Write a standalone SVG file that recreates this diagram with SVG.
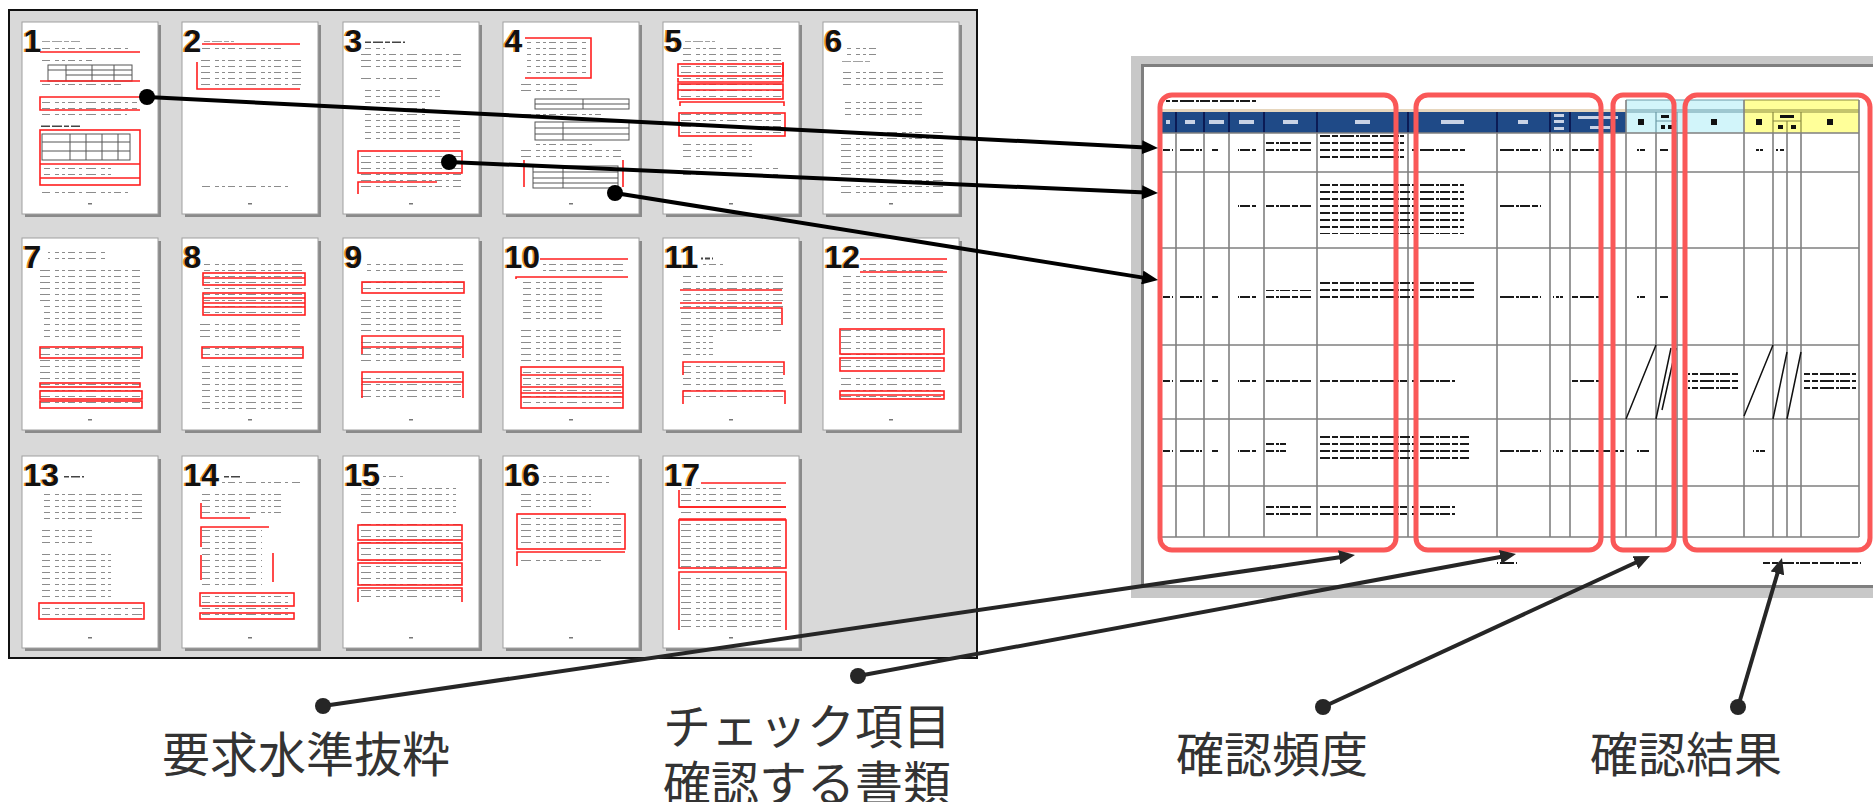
<svg xmlns="http://www.w3.org/2000/svg" width="1873" height="802" viewBox="0 0 1873 802">
<defs>
<style>
.sh{fill:#8a8a8a}
.pg{fill:#fff;stroke:#a0a0a0;stroke-width:1}
.num{font-family:"Liberation Sans",Arial,sans-serif;font-weight:bold;font-size:32px;fill:#111}
.numo{font-family:"Liberation Sans",Arial,sans-serif;font-weight:bold;font-size:32px;fill:#e8962e}
.rd{fill:none;stroke:#ff1e1e;stroke-width:1.6}
.t{fill:url(#tx)}
.h{fill:url(#tb)}
.k{fill:url(#tk)}
.tbl{fill:none;stroke:#555;stroke-width:1}
.ft{fill:#777}
.grid{stroke:#808080;stroke-width:1.6;fill:none}
.hsep{stroke:#0b1b55;stroke-width:2}
.hl{fill:#c9d3e6}
.rr{fill:none;stroke:#fa5858;stroke-width:5}
.lbl{font-family:"Noto Sans CJK JP","Noto Sans CJK SC",sans-serif;font-size:48px;fill:#333}
.ca{stroke:#000;stroke-width:4;fill:none}
.cb{stroke:#262626;stroke-width:4;fill:none}
</style>
<pattern id="tx" width="46" height="6" patternUnits="userSpaceOnUse">
<path d="M0 2.5h7M11 2.5h3M18 2.5h10M33 2.5h4M40 2.5h3" stroke="#8c8c8c" stroke-width="1.2"/>
</pattern>
<pattern id="tb" width="30" height="6" patternUnits="userSpaceOnUse">
<path d="M0 2.5h10M12 2.5h5M19 2.5h9" stroke="#444" stroke-width="1.8"/>
</pattern>
<pattern id="tk" width="40" height="7" patternUnits="userSpaceOnUse">
<path d="M0 3h10M12 3h6M20 3h14M36 3h3" stroke="#1a1a1a" stroke-width="2"/>
</pattern>
<marker id="ah" markerUnits="userSpaceOnUse" markerWidth="16" markerHeight="14" viewBox="0 0 16 14" refX="4" refY="7" orient="auto">
<path d="M0 0L16 7L0 14z" fill="#000"/>
</marker>
<marker id="ah2" markerUnits="userSpaceOnUse" markerWidth="16" markerHeight="14" viewBox="0 0 16 14" refX="4" refY="7" orient="auto">
<path d="M0 0L16 7L0 14z" fill="#262626"/>
</marker>
</defs>

<rect width="1873" height="802" fill="#fff"/>

<!-- left panel with document pages -->
<g id="pages-panel">
<rect x="9" y="10" width="968" height="648" fill="#d9d9d9" stroke="#111" stroke-width="2"/>
</g>

<g id="page1" transform="translate(22,22)">
<rect class="sh" x="3" y="3" width="136" height="192"/><rect class="pg" width="136" height="192"/>
<text class="numo" x="0" y="30">1</text><text class="num" x="1.5" y="30">1</text>
<rect class="h" x="20" y="16" width="40" height="4"/><rect class="t" x="20" y="21" width="90" height="8"/>
<line class="rd" x1="18" y1="30" x2="118" y2="30"/>
<rect class="t" x="20" y="33" width="50" height="8"/>
<rect class="tbl" x="26" y="43" width="84" height="16"/><path class="tbl" d="M26 48h84M44 53h66M44 43v16M70 43v16M92 43v16"/>
<line class="rd" x1="18" y1="59" x2="118" y2="59"/>
<rect class="t" x="20" y="62" width="80" height="6"/>
<rect class="h" x="18" y="70" width="40" height="3"/>
<rect class="t" x="20" y="77" width="95" height="10"/>
<path class="rd" d="M118 75H18v13h100"/>
<rect class="t" x="20" y="91" width="85" height="6"/>
<rect class="h" x="18" y="102" width="40" height="3"/>
<rect class="rd" x="18" y="108" width="100" height="55"/>
<rect class="tbl" x="20" y="112" width="88" height="26"/><path class="tbl" d="M20 120h88M20 129h88M48 112v26M64 112v26M80 112v26M96 112v26"/>
<line class="rd" x1="18" y1="142" x2="118" y2="142" stroke-width="3"/>
<rect class="t" x="22" y="144" width="70" height="10"/>
<line class="rd" x1="18" y1="156" x2="118" y2="156" stroke-width="3"/>
<rect class="t" x="20" y="166" width="90" height="10"/>
<rect class="ft" x="66" y="181" width="4" height="1.5"/>
</g>

<g id="page2" transform="translate(182,22)">
<rect class="sh" x="3" y="3" width="136" height="192"/><rect class="pg" width="136" height="192"/>
<text class="numo" x="0" y="30">2</text><text class="num" x="1.5" y="30">2</text>
<rect class="h" x="22" y="17" width="30" height="3"/>
<line class="rd" x1="20" y1="22" x2="118" y2="22"/>
<rect class="t" x="20" y="24" width="80" height="6"/>
<rect class="t" x="19" y="38" width="100" height="28"/>
<path class="rd" d="M15 40v27h103"/>
<rect class="t" x="20" y="164" width="90" height="5"/>
<rect class="ft" x="66" y="181" width="4" height="1.5"/>
</g>

<g id="page3" transform="translate(343,22)">
<rect class="sh" x="3" y="3" width="136" height="192"/><rect class="pg" width="136" height="192"/>
<text class="numo" x="0" y="30">3</text><text class="num" x="1.5" y="30">3</text>
<rect class="h" x="22" y="17" width="40" height="4"/><rect class="t" x="22" y="23" width="20" height="4"/>
<rect class="t" x="18" y="32" width="100" height="14"/>
<rect class="t" x="18" y="52" width="60" height="8"/>
<rect class="t" x="22" y="64" width="75" height="12"/>
<rect class="t" x="22" y="80" width="60" height="14"/>
<rect class="t" x="22" y="98" width="95" height="22"/>
<rect class="h" x="18" y="124" width="20" height="3"/>
<rect class="t" x="18" y="130" width="100" height="40"/>
<rect class="rd" x="15" y="129" width="104" height="22"/>
<path class="rd" d="M15 172v-12h79"/>
<rect class="ft" x="66" y="181" width="4" height="1.5"/>
</g>

<g id="page4" transform="translate(503,22)">
<rect class="sh" x="3" y="3" width="136" height="192"/><rect class="pg" width="136" height="192"/>
<text class="numo" x="0" y="30">4</text><text class="num" x="1.5" y="30">4</text>
<rect class="t" x="24" y="18" width="60" height="36"/>
<path class="rd" d="M22 16h66v40H22"/>
<rect class="t" x="18" y="58" width="60" height="12"/>
<rect class="tbl" x="32" y="77" width="94" height="10"/><path class="tbl" d="M80 77v10M32 82h94"/>
<rect class="t" x="18" y="89" width="80" height="5"/>
<rect class="tbl" x="32" y="100" width="94" height="18"/><path class="tbl" d="M32 106h94M32 112h94M60 100v18"/>
<rect class="t" x="30" y="120" width="60" height="4"/>
<rect class="t" x="18" y="128" width="100" height="10"/>
<rect class="tbl" x="30" y="144" width="85" height="22"/><path class="tbl" d="M30 150h85M30 156h85M30 161h85M60 144v22"/>
<path class="rd" d="M21 138v27M120 138v27"/>
<rect class="ft" x="66" y="181" width="4" height="1.5"/>
</g>

<g id="page5" transform="translate(663,22)">
<rect class="sh" x="3" y="3" width="136" height="192"/><rect class="pg" width="136" height="192"/>
<text class="numo" x="0" y="30">5</text><text class="num" x="1.5" y="30">5</text>
<rect class="h" x="22" y="17" width="30" height="3"/>
<rect class="t" x="20" y="23" width="98" height="34"/>
<path class="rd" d="M120 40v20H15v-4"/>
<rect class="t" x="18" y="44" width="100" height="9"/>
<rect class="rd" x="15" y="42" width="105" height="12"/>
<rect class="t" x="18" y="62" width="100" height="14"/>
<rect class="rd" x="15" y="62" width="105" height="15"/><line class="rd" x1="15" y1="68" x2="120" y2="68"/>
<path class="rd" d="M17 84v-4h104v4"/>
<rect class="t" x="18" y="92" width="100" height="22"/>
<rect class="rd" x="16" y="91" width="106" height="23"/>
<rect class="t" x="20" y="118" width="70" height="22"/>
<rect class="t" x="20" y="146" width="95" height="12"/>
<rect class="ft" x="66" y="181" width="4" height="1.5"/>
</g>

<g id="page6" transform="translate(823,22)">
<rect class="sh" x="3" y="3" width="136" height="192"/><rect class="pg" width="136" height="192"/>
<text class="numo" x="0" y="30">6</text><text class="num" x="1.5" y="30">6</text>
<rect class="t" x="24" y="22" width="30" height="12"/>
<rect class="h" x="18" y="39" width="30" height="3"/>
<rect class="t" x="20" y="45" width="100" height="20"/>
<rect class="h" x="18" y="70" width="30" height="3"/>
<rect class="t" x="22" y="75" width="80" height="18"/>
<rect class="h" x="18" y="100" width="30" height="3"/>
<rect class="t" x="18" y="105" width="105" height="70"/>
<rect class="ft" x="66" y="181" width="4" height="1.5"/>
</g>

<g id="page7" transform="translate(22,238)">
<rect class="sh" x="3" y="3" width="136" height="192"/><rect class="pg" width="136" height="192"/>
<text class="numo" x="0" y="30">7</text><text class="num" x="1.5" y="30">7</text>
<rect class="t" x="26" y="12" width="60" height="14"/>
<rect class="t" x="18" y="30" width="100" height="34"/>
<rect class="t" x="22" y="68" width="100" height="36"/>
<rect class="t" x="18" y="106" width="100" height="64"/>
<rect class="rd" x="18" y="109" width="102" height="11"/>
<rect class="rd" x="18" y="145" width="100" height="4"/>
<rect class="rd" x="18" y="153" width="102" height="8"/>
<rect class="rd" x="18" y="163" width="102" height="7"/>
<rect class="ft" x="66" y="181" width="4" height="1.5"/>
</g>

<g id="page8" transform="translate(182,238)">
<rect class="sh" x="3" y="3" width="136" height="192"/><rect class="pg" width="136" height="192"/>
<text class="numo" x="0" y="30">8</text><text class="num" x="1.5" y="30">8</text>
<rect class="t" x="22" y="22" width="98" height="56"/>
<rect class="rd" x="21" y="35" width="102" height="12"/><line class="rd" x1="21" y1="40" x2="123" y2="40"/>
<rect class="rd" x="21" y="55" width="102" height="22"/><path class="rd" d="M21 60h102M21 65h102M21 69h102"/>
<rect class="t" x="18" y="82" width="100" height="22"/>
<rect class="t" x="20" y="108" width="100" height="12"/>
<rect class="rd" x="20" y="109" width="101" height="11"/>
<rect class="t" x="20" y="126" width="100" height="46"/>
<rect class="ft" x="66" y="181" width="4" height="1.5"/>
</g>

<g id="page9" transform="translate(343,238)">
<rect class="sh" x="3" y="3" width="136" height="192"/><rect class="pg" width="136" height="192"/>
<text class="numo" x="0" y="30">9</text><text class="num" x="1.5" y="30">9</text>
<rect class="t" x="24" y="22" width="98" height="14"/>
<rect class="t" x="20" y="44" width="100" height="10"/>
<rect class="rd" x="19" y="44" width="102" height="11"/>
<rect class="t" x="18" y="60" width="100" height="36"/>
<rect class="t" x="18" y="99" width="100" height="28"/>
<path class="rd" d="M19 116V98h101v22M19 109h101"/>
<rect class="t" x="18" y="135" width="100" height="28"/>
<path class="rd" d="M19 160v-26h101v26M19 144h101"/>
<rect class="ft" x="66" y="181" width="4" height="1.5"/>
</g>

<g id="page10" transform="translate(503,238)">
<rect class="sh" x="3" y="3" width="136" height="192"/><rect class="pg" width="136" height="192"/>
<text class="numo" x="0" y="30">10</text><text class="num" x="1.5" y="30">10</text>
<line class="rd" x1="37" y1="21" x2="125" y2="21"/>
<rect class="t" x="40" y="23" width="82" height="14"/>
<path class="rd" d="M13 41v-2h112"/>
<rect class="t" x="20" y="44" width="80" height="40"/>
<rect class="t" x="18" y="88" width="100" height="40"/>
<rect class="t" x="20" y="130" width="98" height="40"/>
<rect class="rd" x="18" y="129" width="102" height="41"/><path class="rd" d="M18 137h102M18 149h102M18 155h102M18 159h102"/>
<rect class="ft" x="66" y="181" width="4" height="1.5"/>
</g>

<g id="page11" transform="translate(663,238)">
<rect class="sh" x="3" y="3" width="136" height="192"/><rect class="pg" width="136" height="192"/>
<text class="numo" x="0" y="30">11</text><text class="num" x="1.5" y="30">11</text>
<rect class="h" x="38" y="19" width="12" height="3"/><rect class="t" x="38" y="24" width="22" height="5"/>
<rect class="t" x="20" y="34" width="100" height="40"/>
<path class="rd" d="M17 52h102M17 65h102"/>
<path class="rd" d="M17 70h102v17"/>
<rect class="t" x="18" y="74" width="100" height="20"/>
<rect class="t" x="20" y="96" width="30" height="26"/>
<rect class="t" x="20" y="126" width="100" height="38"/>
<path class="rd" d="M20 137v-13h101v13"/>
<path class="rd" d="M20 166v-13h102v13"/>
<rect class="ft" x="66" y="181" width="4" height="1.5"/>
</g>

<g id="page12" transform="translate(823,238)">
<rect class="sh" x="3" y="3" width="136" height="192"/><rect class="pg" width="136" height="192"/>
<text class="numo" x="0" y="30">12</text><text class="num" x="1.5" y="30">12</text>
<path class="rd" d="M37 21h87M37 34h87"/>
<rect class="t" x="40" y="25" width="82" height="8"/>
<rect class="t" x="20" y="38" width="100" height="48"/>
<rect class="t" x="18" y="92" width="100" height="40"/>
<rect class="rd" x="17" y="91" width="104" height="25"/>
<rect class="rd" x="17" y="120" width="104" height="13"/>
<rect class="t" x="18" y="138" width="100" height="24"/>
<rect class="rd" x="17" y="153" width="104" height="8"/><line class="rd" x1="17" y1="157" x2="121" y2="157"/>
<rect class="ft" x="66" y="181" width="4" height="1.5"/>
</g>

<g id="page13" transform="translate(22,456)">
<rect class="sh" x="3" y="3" width="136" height="192"/><rect class="pg" width="136" height="192"/>
<text class="numo" x="0" y="30">13</text><text class="num" x="1.5" y="30">13</text>
<rect class="h" x="40" y="20" width="22" height="3"/>
<rect class="t" x="22" y="34" width="100" height="30"/>
<rect class="t" x="20" y="70" width="50" height="22"/>
<rect class="t" x="20" y="96" width="70" height="46"/>
<rect class="t" x="20" y="149" width="100" height="12"/>
<rect class="rd" x="17" y="147" width="105" height="16"/>
<rect class="ft" x="66" y="181" width="4" height="1.5"/>
</g>

<g id="page14" transform="translate(182,456)">
<rect class="sh" x="3" y="3" width="136" height="192"/><rect class="pg" width="136" height="192"/>
<text class="numo" x="0" y="30">14</text><text class="num" x="1.5" y="30">14</text>
<rect class="h" x="40" y="20" width="20" height="3"/><rect class="t" x="40" y="24" width="78" height="5"/>
<rect class="t" x="20" y="34" width="80" height="28"/>
<path class="rd" d="M19 47v15h49"/>
<path class="rd" d="M19 91V71h68"/>
<rect class="t" x="20" y="72" width="60" height="22"/>
<rect class="t" x="20" y="98" width="60" height="34"/>
<path class="rd" d="M19 99v25M91 97v29"/>
<rect class="t" x="20" y="138" width="90" height="24"/>
<rect class="rd" x="18" y="137" width="94" height="13"/>
<rect class="rd" x="18" y="157" width="94" height="6"/>
<rect class="ft" x="66" y="181" width="4" height="1.5"/>
</g>

<g id="page15" transform="translate(343,456)">
<rect class="sh" x="3" y="3" width="136" height="192"/><rect class="pg" width="136" height="192"/>
<text class="numo" x="0" y="30">15</text><text class="num" x="1.5" y="30">15</text>
<rect class="t" x="40" y="20" width="20" height="5"/>
<rect class="t" x="18" y="32" width="95" height="30"/>
<rect class="t" x="18" y="66" width="100" height="80"/>
<rect class="rd" x="15" y="69" width="104" height="15"/>
<rect class="rd" x="15" y="87" width="104" height="17"/>
<rect class="rd" x="15" y="107" width="104" height="22"/>
<path class="rd" d="M15 146v-14h104v14"/>
<rect class="ft" x="66" y="181" width="4" height="1.5"/>
</g>

<g id="page16" transform="translate(503,456)">
<rect class="sh" x="3" y="3" width="136" height="192"/><rect class="pg" width="136" height="192"/>
<text class="numo" x="0" y="30">16</text><text class="num" x="1.5" y="30">16</text>
<rect class="t" x="40" y="20" width="68" height="12"/>
<rect class="t" x="18" y="38" width="70" height="14"/>
<rect class="t" x="18" y="60" width="100" height="30"/>
<rect class="rd" x="14" y="58" width="108" height="35"/>
<path class="rd" d="M14 110V96h108"/>
<rect class="t" x="18" y="99" width="80" height="10"/>
<rect class="ft" x="66" y="181" width="4" height="1.5"/>
</g>

<g id="page17" transform="translate(663,456)">
<rect class="sh" x="3" y="3" width="136" height="192"/><rect class="pg" width="136" height="192"/>
<text class="numo" x="0" y="30">17</text><text class="num" x="1.5" y="30">17</text>
<rect class="h" x="40" y="22" width="18" height="3"/>
<line class="rd" x1="38" y1="27" x2="123" y2="27"/>
<rect class="t" x="18" y="32" width="100" height="18"/>
<path class="rd" d="M16 34v17h107" />
<line class="rd" x1="16" y1="51" x2="123" y2="51" stroke-width="3"/>
<rect class="t" x="18" y="55" width="100" height="6"/>
<line class="rd" x1="16" y1="63" x2="123" y2="63"/>
<rect class="rd" x="16" y="64" width="107" height="48"/>
<rect class="t" x="18" y="67" width="100" height="44"/>
<path class="rd" d="M16 174v-58h107v58"/>
<rect class="t" x="18" y="118" width="100" height="56"/>
<rect class="ft" x="66" y="181" width="4" height="1.5"/>
</g>

<!-- right panel: checklist spreadsheet -->
<g id="sheet">
<rect x="1131" y="56" width="760" height="542" fill="#c8c8c8"/>
<rect x="1142.5" y="65.5" width="740" height="521" fill="#fff" stroke="#7f7f7f" stroke-width="3"/>
<rect class="k" x="1158" y="89" width="150" height="4"/>
<rect class="k" x="1166" y="100" width="90" height="5"/>
<rect x="1161" y="109" width="465" height="3" fill="#e6d6bd"/>
<rect x="1161" y="112" width="465" height="21" fill="#1f4a87"/>
<path class="hsep" d="M1176 112v21M1204 112v21M1229 112v21M1264 112v21M1317 112v21M1408 112v21M1497 112v21M1550 112v21M1570 112v21"/>
<rect class="hl" x="1166" y="120" width="4" height="4"/>
<rect class="hl" x="1185" y="120" width="10" height="4"/>
<rect class="hl" x="1209" y="120" width="15" height="4"/>
<rect class="hl" x="1239" y="120" width="15" height="4"/>
<rect class="hl" x="1283" y="120" width="15" height="4"/>
<rect class="hl" x="1355" y="120" width="15" height="4"/>
<rect class="hl" x="1441" y="120" width="23" height="4"/>
<rect class="hl" x="1518" y="120" width="10" height="4"/>
<rect class="hl" x="1554" y="114" width="10" height="3"/><rect class="hl" x="1554" y="120" width="10" height="3"/><rect class="hl" x="1554" y="127" width="10" height="3"/>
<rect class="hl" x="1578" y="116" width="40" height="3"/><rect class="hl" x="1590" y="126" width="20" height="3"/>
<rect x="1626" y="100" width="118" height="33" fill="#d2f5fa"/>
<path d="M1626 100h118M1626 110h118M1626 112h118M1656 112v21M1677 112v21M1656 121h21" stroke="#6a9aa6" stroke-width="1.2" fill="none"/>
<rect class="k" x="1665" y="104" width="30" height="3"/>
<rect x="1638" y="119" width="6" height="6" fill="#111"/>
<rect x="1661" y="115" width="8" height="3" fill="#111"/><rect x="1661" y="125" width="4" height="4" fill="#111"/><rect x="1668" y="125" width="4" height="4" fill="#111"/>
<rect x="1711" y="119" width="6" height="6" fill="#111"/>
<rect x="1744" y="100" width="115" height="33" fill="#ffff99"/>
<path d="M1744 100h115M1744 110h115M1744 112h115M1773 112v21M1801 112v21M1773 121h28M1787 121v12" stroke="#8a8a40" stroke-width="1.2" fill="none"/>
<rect class="k" x="1768" y="104" width="60" height="3"/>
<rect x="1756" y="119" width="6" height="6" fill="#111"/>
<rect x="1780" y="115" width="14" height="3" fill="#111"/><rect x="1778" y="125" width="5" height="4" fill="#111"/><rect x="1791" y="125" width="5" height="4" fill="#111"/>
<rect x="1827" y="119" width="6" height="6" fill="#111"/>
<path class="grid" d="M1161 133h698M1161 172h698M1161 248h698M1161 345h698M1161 419h698M1161 486h698M1161 537h698"/>
<path class="grid" d="M1161 133v404M1176 133v404M1204 133v404M1229 133v404M1264 133v404M1317 133v404M1408 133v404M1497 133v404M1550 133v404M1570 133v404M1626 100v437M1656 133v404M1677 133v404M1744 100v437M1773 133v404M1787 133v404M1801 133v404M1859 100v437"/>
<!-- row 1 -->
<rect class="k" x="1163" y="148" width="10" height="5"/><rect class="k" x="1178" y="148" width="24" height="5"/><rect class="k" x="1211" y="148" width="8" height="5"/><rect class="k" x="1238" y="148" width="18" height="5"/><rect class="k" x="1266" y="142" width="45" height="14"/><rect class="k" x="1319" y="135" width="85" height="28"/><rect class="k" x="1410" y="148" width="55" height="5"/><rect class="k" x="1499" y="148" width="42" height="5"/><rect class="k" x="1553" y="148" width="10" height="5"/><rect class="k" x="1572" y="148" width="30" height="5"/><rect class="k" x="1637" y="148" width="8" height="5"/><rect class="k" x="1660" y="148" width="8" height="5"/><rect class="k" x="1755" y="148" width="8" height="5"/><rect class="k" x="1776" y="148" width="8" height="5"/>
<!-- row 2 -->
<rect class="k" x="1163" y="207" width="10" height="5"/><rect class="k" x="1178" y="207" width="24" height="5"/><rect class="k" x="1211" y="207" width="8" height="5"/><rect class="k" x="1238" y="200" width="18" height="12"/><rect class="k" x="1266" y="200" width="45" height="12"/><rect class="k" x="1319" y="184" width="145" height="50"/><rect class="k" x="1499" y="200" width="42" height="12"/><rect class="k" x="1553" y="207" width="10" height="5"/><rect class="k" x="1572" y="207" width="30" height="5"/><rect class="k" x="1637" y="207" width="8" height="5"/><rect class="k" x="1660" y="207" width="8" height="5"/><rect class="k" x="1755" y="207" width="8" height="5"/><rect class="k" x="1776" y="207" width="8" height="5"/>
<!-- row 3 -->
<rect class="k" x="1163" y="293" width="10" height="5"/><rect class="k" x="1178" y="293" width="24" height="5"/><rect class="k" x="1211" y="293" width="8" height="5"/><rect class="k" x="1238" y="293" width="18" height="5"/><rect class="k" x="1266" y="290" width="45" height="12"/><rect class="k" x="1319" y="280" width="155" height="22"/><rect class="k" x="1499" y="293" width="42" height="5"/><rect class="k" x="1553" y="293" width="10" height="5"/><rect class="k" x="1572" y="293" width="30" height="5"/><rect class="k" x="1637" y="293" width="8" height="5"/><rect class="k" x="1660" y="293" width="8" height="5"/>
<!-- row 4 -->
<rect class="k" x="1163" y="378" width="10" height="5"/><rect class="k" x="1178" y="378" width="24" height="5"/><rect class="k" x="1211" y="378" width="8" height="5"/><rect class="k" x="1238" y="378" width="18" height="5"/><rect class="k" x="1266" y="375" width="45" height="10"/><rect class="k" x="1319" y="375" width="88" height="10"/><rect class="k" x="1410" y="378" width="45" height="5"/><rect class="k" x="1572" y="378" width="30" height="5"/>
<rect class="k" x="1688" y="369" width="50" height="24"/><rect class="k" x="1804" y="369" width="52" height="24"/>
<path d="M1626 419L1656 345M1656 419L1671 348M1662 410L1676 348M1744 416L1773 345M1773 419L1787 352M1787 419L1801 352" stroke="#111" stroke-width="1.5" fill="none"/>
<!-- row 5 -->
<rect class="k" x="1163" y="449" width="10" height="5"/><rect class="k" x="1178" y="449" width="24" height="5"/><rect class="k" x="1211" y="449" width="8" height="5"/><rect class="k" x="1238" y="449" width="18" height="5"/><rect class="k" x="1266" y="443" width="20" height="12"/><rect class="k" x="1319" y="434" width="150" height="30"/><rect class="k" x="1499" y="449" width="42" height="5"/><rect class="k" x="1553" y="449" width="10" height="5"/><rect class="k" x="1572" y="449" width="52" height="5"/><rect class="k" x="1637" y="449" width="12" height="5"/><rect class="k" x="1753" y="449" width="12" height="5"/>
<!-- row 6 -->
<rect class="k" x="1163" y="508" width="10" height="5"/><rect class="k" x="1178" y="508" width="24" height="5"/><rect class="k" x="1211" y="508" width="8" height="5"/><rect class="k" x="1238" y="508" width="18" height="5"/><rect class="k" x="1266" y="505" width="45" height="10"/><rect class="k" x="1319" y="505" width="88" height="10"/><rect class="k" x="1410" y="505" width="45" height="10"/><rect class="k" x="1499" y="508" width="20" height="5"/><rect class="k" x="1553" y="508" width="10" height="5"/><rect class="k" x="1572" y="508" width="52" height="5"/><rect class="k" x="1637" y="508" width="8" height="5"/><rect class="k" x="1755" y="508" width="8" height="5"/>
<rect class="k" x="1497" y="559" width="20" height="5"/>
<rect class="k" x="1763" y="559" width="98" height="5"/>
</g>

<g id="box-requirements"><rect class="rr" x="1160" y="95" width="236" height="455" rx="12"/></g>
<g id="box-checkitems"><rect class="rr" x="1416" y="95" width="185" height="455" rx="12"/></g>
<g id="box-frequency"><rect class="rr" x="1613" y="95" width="61" height="455" rx="10"/></g>
<g id="box-results"><rect class="rr" x="1685" y="95" width="185" height="455" rx="12"/></g>

<g id="connectors">
<line class="ca" x1="147" y1="97" x2="1146" y2="147.4" marker-end="url(#ah)"/>
<circle cx="147" cy="97" r="8" fill="#000"/>
<line class="ca" x1="449" y1="162" x2="1146" y2="192.5" marker-end="url(#ah)"/>
<circle cx="449" cy="162" r="8" fill="#000"/>
<line class="ca" x1="615" y1="193" x2="1146.2" y2="278.1" marker-end="url(#ah)"/>
<circle cx="615" cy="193" r="8" fill="#000"/>
<line class="cb" x1="323" y1="706" x2="1343.1" y2="556.7" marker-end="url(#ah2)"/>
<circle cx="323" cy="706" r="8" fill="#262626"/>
<line class="cb" x1="858" y1="676" x2="1504.2" y2="556.2" marker-end="url(#ah2)"/>
<circle cx="858" cy="676" r="8" fill="#262626"/>
<line class="cb" x1="1323" y1="707" x2="1639.1" y2="561" marker-end="url(#ah2)"/>
<circle cx="1323" cy="707" r="8" fill="#262626"/>
<line class="cb" x1="1738" y1="707" x2="1778.6" y2="569.5" marker-end="url(#ah2)"/>
<circle cx="1738" cy="707" r="8" fill="#262626"/>
</g>

<g id="label-requirements"><text class="lbl" x="162" y="772">要求水準抜粋</text></g>
<g id="label-checkitems"><text class="lbl" x="663" y="744">チェック項目</text><text class="lbl" x="663" y="801">確認する書類</text></g>
<g id="label-frequency"><text class="lbl" x="1176" y="772">確認頻度</text></g>
<g id="label-results"><text class="lbl" x="1590" y="772">確認結果</text></g>
</svg>
